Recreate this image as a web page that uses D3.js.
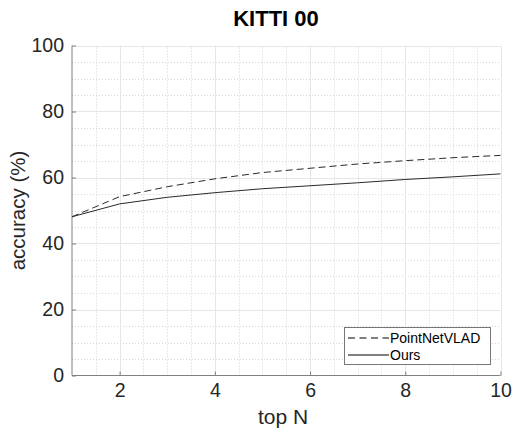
<!DOCTYPE html>
<html><head><meta charset="utf-8">
<script src="https://cdn.jsdelivr.net/npm/d3@7"></script>
<style>body{margin:0;background:#fff}svg{display:block;font-family:"Liberation Sans",Arial,sans-serif}</style>
</head><body>
<script>
const topN = [1,2,3,4,5,6,7,8,9,10];
const pointNetVLAD = [48.1,54.2,57.2,59.6,61.5,62.8,64.1,65.1,66.0,66.7];
const ours = [48.1,52.0,54.0,55.4,56.6,57.5,58.4,59.4,60.2,61.1];
const xTicks = [2,4,6,8,10];
const yTicks = [0,20,40,60,80,100];
const seriesNames = ["PointNetVLAD","Ours"];

const W=512,H=430;
const m={l:72,r:11.5,t:45.5,b:54.5};
const svg=d3.select("body").append("svg").attr("width",W).attr("height",H);
const x=d3.scaleLinear().domain([1,10]).range([m.l,W-m.r]);
const y=d3.scaleLinear().domain([0,100]).range([H-m.b,m.t]);

const g=svg.append("g");
// minor grid
const xMinor=d3.range(1.5,10.01,0.5).filter(v=>v%2!==0);
const yMinor=d3.range(5,100.1,5).filter(v=>v%20!==0);
g.selectAll(".xm").data(xMinor).join("line")
 .attr("x1",d=>Math.round(x(d))+0.5).attr("x2",d=>Math.round(x(d))+0.5).attr("y1",y(0)).attr("y2",y(100))
 .attr("stroke","#d4d4d4").attr("stroke-dasharray","1,2");
g.selectAll(".ym").data(yMinor).join("line")
 .attr("y1",d=>Math.round(y(d))+0.5).attr("y2",d=>Math.round(y(d))+0.5).attr("x1",x(1)).attr("x2",x(10))
 .attr("stroke","#d4d4d4").attr("stroke-dasharray","1,2");
// major grid
g.selectAll(".xg").data(xTicks).join("line")
 .attr("x1",d=>Math.round(x(d))+0.5).attr("x2",d=>Math.round(x(d))+0.5).attr("y1",y(0)).attr("y2",y(100))
 .attr("stroke","#e6e6e6");
g.selectAll(".yg").data(yTicks.filter(v=>v>0)).join("line")
 .attr("y1",d=>Math.round(y(d))+0.5).attr("y2",d=>Math.round(y(d))+0.5).attr("x1",x(1)).attr("x2",x(10))
 .attr("stroke","#e6e6e6");

// axes
const xa=d3.axisBottom(x).tickValues(xTicks).tickSize(-4).tickPadding(7.5).tickFormat(d3.format("d"));
const ya=d3.axisLeft(y).tickValues(yTicks).tickSize(-4).tickPadding(8).tickFormat(d3.format("d"));
const gx=svg.append("g").attr("transform",`translate(0,${y(0)})`).call(xa);
const gy=svg.append("g").attr("transform",`translate(${x(1)},0)`).call(ya);
[gx,gy].forEach(a=>{
  a.select(".domain").attr("stroke","#808080");
  a.selectAll(".tick line").attr("stroke","#808080");
  a.selectAll(".tick text").attr("fill","#262626").style("font-size","19.5px").style("font-family","Liberation Sans, Arial, sans-serif");
});
gy.select(".domain").attr("d",`M0,${y(100)}V${y(0)}`);
gx.select(".domain").attr("d",`M${x(1)},0H${x(10)}`);

// lines
const line=d3.line().x((d,i)=>x(topN[i])).y(d=>y(d));
svg.append("path").datum(pointNetVLAD).attr("d",line).attr("fill","none").attr("stroke","#2a2a2a").attr("stroke-width",1).attr("stroke-dasharray","7,4");
svg.append("path").datum(ours).attr("d",line).attr("fill","none").attr("stroke","#2a2a2a").attr("stroke-width",1);

// title & labels
svg.append("text").attr("x",276).attr("y",26).attr("text-anchor","middle").style("font-size","22px").style("font-weight","bold").attr("fill","#000").text("KITTI 00");
svg.append("text").attr("x",283).attr("y",424).attr("text-anchor","middle").style("font-size","21px").attr("fill","#262626").text("top N");
svg.append("text").attr("transform",`translate(25,${y(50)}) rotate(-90)`).attr("text-anchor","middle").style("font-size","20.5px").attr("fill","#262626").text("accuracy (%)");

// legend
const lg=svg.append("g").attr("transform","translate(344.5,327.5)");
lg.append("rect").attr("width",146).attr("height",37).attr("fill","#fff").attr("stroke","#777");
const dashes=["7,4.5",null];
seriesNames.forEach((n,i)=>{
  const yy=10.5+i*17;
  const l=lg.append("line").attr("x1",3.5).attr("x2",44.5).attr("y1",yy).attr("y2",yy).attr("stroke","#000").attr("stroke-width",1);
  if(dashes[i]) l.attr("stroke-dasharray",dashes[i]);
  lg.append("text").attr("x",45.5).attr("y",yy+5).style("font-size","14px").attr("fill","#000").text(n);
});
</script>
</body></html>
